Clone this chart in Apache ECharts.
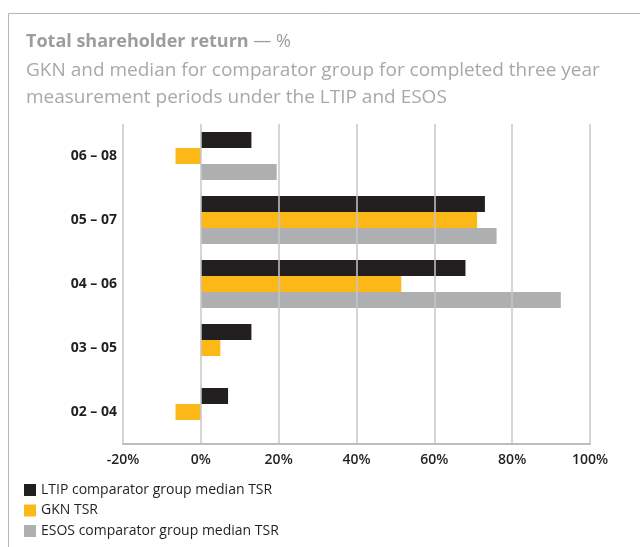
<!DOCTYPE html>
<html lang="en">
  <head>
    <meta charset="UTF-8" />
    <title>Total shareholder return</title>
    <script src="https://cdn.jsdelivr.net/npm/echarts@6/dist/echarts.min.js"></script>
    <style>
      body { margin: 0; background: #fff; }
    </style>
  </head>
  <body>
    <div id="main" style="width: 640px; height: 547px"></div>

    <script type="text/javascript">
      // periods, top to bottom
      const periods = ["06 – 08", "05 – 07", "04 – 06", "03 – 05", "02 – 04"];
      const ltip = [13, 73, 68, 13, 7];
      const gkn = [-6.5, 71, 51.5, 5, -6.5];
      const esos = [19.5, 76, 92.5, null, null];
      const xTicks = [-20, 0, 20, 40, 60, 80, 100];

      const font = "Open Sans";
      let myChart = echarts.init(document.getElementById("main"));

      const options = {
        animation: false,
        textStyle: { fontFamily: font },
        title: {
          left: 21,
          top: 28,
          text: "{b|Total shareholder return} {n|— %}",
          textStyle: {
            rich: {
              b: { fontFamily: font, fontSize: 18, fontWeight: "bold", color: "#9d9d9f" },
              n: { fontFamily: font, fontSize: 18, fontWeight: "normal", color: "#9d9d9f" },
            },
          },
          subtext:
            "GKN and median for comparator group for completed three year\nmeasurement periods under the LTIP and ESOS",
          itemGap: 6,
          subtextStyle: { fontFamily: font, fontSize: 19, lineHeight: 27, color: "#a7a8aa" },
        },
        graphic: [
          {
            type: "rect",
            shape: { x: 8.5, y: 13.5, width: 700, height: 600 },
            style: { fill: "none", stroke: "#b5b6b8", lineWidth: 1 },
            silent: true,
          },
        ],
        legend: {
          orient: "vertical",
          left: 24,
          top: 483,
          padding: 0,
          itemWidth: 12,
          itemHeight: 12,
          itemGap: 6.5,
          icon: "rect",
          textStyle: { fontFamily: font, fontSize: 14, color: "#231f20" },
          data: [
            "LTIP comparator group median TSR",
            "GKN TSR",
            "ESOS comparator group median TSR",
          ],
        },
        grid: { left: 123, right: 50, top: 124, bottom: 103, containLabel: false },
        xAxis: {
          type: "value",
          min: xTicks[0],
          max: xTicks[xTicks.length - 1],
          interval: 20,
          z: 5,
          axisLine: { show: true, lineStyle: { color: "#bcbdbf", width: 2 } },
          axisTick: { show: false },
          axisLabel: {
            formatter: "{value}%",
            fontFamily: font,
            fontSize: 14,
            fontWeight: 600,
            color: "#231f20",
            margin: 9,
          },
          splitLine: { show: true, lineStyle: { color: "#c6c7c9", width: 1.5 } },
        },
        yAxis: {
          type: "category",
          inverse: true,
          data: periods,
          axisLine: { show: false },
          axisTick: { show: false },
          axisLabel: {
            fontFamily: font,
            fontSize: 14,
            fontWeight: "bold",
            color: "#231f20",
            margin: 6,
          },
        },
        series: [
          {
            name: "LTIP comparator group median TSR",
            type: "bar",
            data: ltip,
            itemStyle: { color: "#231f20" },
            barGap: "0%",
            barCategoryGap: "25%",
          },
          {
            name: "GKN TSR",
            type: "bar",
            data: gkn,
            itemStyle: { color: "#fbb817" },
          },
          {
            name: "ESOS comparator group median TSR",
            type: "bar",
            data: esos,
            itemStyle: { color: "#aeafb1" },
          },
        ],
      };

      myChart.setOption(options);
    </script>
  </body>
</html>
